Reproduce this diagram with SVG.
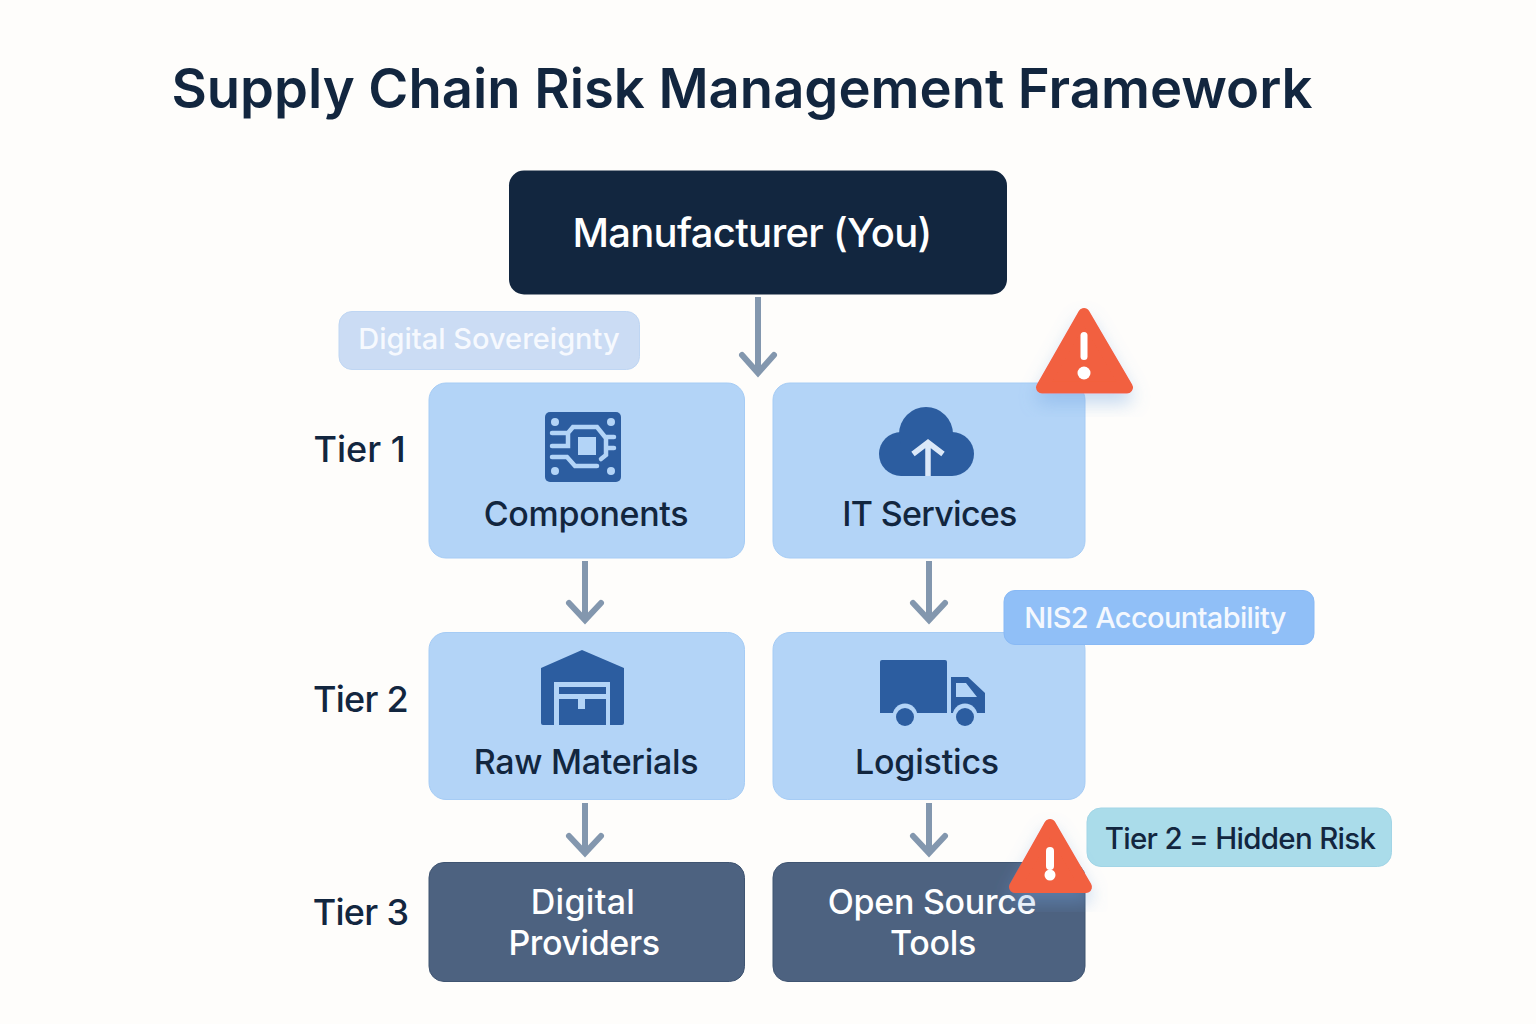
<svg xmlns="http://www.w3.org/2000/svg" width="1536" height="1024" viewBox="0 0 1536 1024">
<style>
text{font-family:Inter,"Noto Sans","Liberation Sans",sans-serif;text-anchor:middle}
.light{fill:#b3d4f7;stroke:#a6ccf5;stroke-width:1}
.dark{fill:#4d6280;stroke:#3f5471;stroke-width:1}
.lbl{font-size:34px;font-weight:500;fill:#12263f}
.wl{font-size:34px;font-weight:500;fill:#fff}
.tier{font-size:36px;font-weight:500;fill:#12263f;letter-spacing:-.7px}
.ic{fill:#2c5da0}
.icl{fill:none;stroke:#b3d4f7;stroke-width:4.500;stroke-linecap:round}
.conn path{fill:none;stroke:#8397ae;stroke-width:6}
.conn path.h{stroke-linecap:round}
.warn{fill:#f2603f;stroke:#f2603f;stroke-linejoin:round}
</style>
<defs>
<filter id="sh" x="-30%" y="-30%" width="160%" height="170%"><feDropShadow dx="0" dy="10" stdDeviation="9" flood-color="#6fa3e0" flood-opacity=".4"/></filter>
</defs>
<rect width="1536" height="1024" fill="#fefdfb"/>
<text id="title" x="742" y="108" font-size="54.400" font-weight="600" fill="#12263f">Supply Chain Risk Management Framework</text>

<g id="connectors" class="conn">
<path d="M758 297V372"/><path class="h" d="M742 355L758 373L774 355"/>
<path d="M585 561V618"/><path class="h" d="M569 603L585 620L601 603"/>
<path d="M929 561V618"/><path class="h" d="M913 603L929 620L945 603"/>
<path d="M585 803V851"/><path class="h" d="M569 836L585 853L601 836"/>
<path d="M929 803V851"/><path class="h" d="M913 836L929 853L945 836"/>
</g>

<g id="manufacturer"><rect x="509" y="170.500" width="498" height="124" rx="15" fill="#12263f"/><text x="752" y="247" font-size="40" font-weight="500" fill="#fff" letter-spacing="-.7">Manufacturer (You)</text></g>

<g id="digital-sovereignty"><rect x="339" y="311.500" width="300.500" height="58" rx="13" fill="#cbdcf4" stroke="#bfd6f3"/><text x="489" y="349" font-size="29" font-weight="500" fill="#f6f9fe">Digital Sovereignty</text></g>

<text id="tier1" class="tier" x="359.500" y="462" style="letter-spacing:0">Tier 1</text>
<text id="tier2" class="tier" x="360.500" y="712">Tier 2</text>
<text id="tier3" class="tier" x="360.500" y="925">Tier 3</text>

<g id="components">
<rect class="light" x="429" y="383" width="315.500" height="175" rx="17"/>
<rect class="ic" x="545" y="412" width="76" height="70" rx="5"/>
<g fill="#b3d4f7"><circle cx="555" cy="422" r="4"/><circle cx="611" cy="422" r="4"/><circle cx="555" cy="471" r="4"/><circle cx="611" cy="471" r="4"/><rect x="578" y="437" width="18" height="18"/></g>
<path class="icl" d="M552 433H568L573 427H597L605 437H614M552 446H568V433M606 437V455L601 459M607 448H614M552 457H567L575 466H597"/>
<text class="lbl" x="586" y="526" letter-spacing="-.3">Components</text>
</g>

<g id="it-services">
<rect class="light" x="773" y="383" width="312" height="175" rx="17"/>
<g class="ic"><circle cx="901" cy="454" r="22"/><circle cx="952" cy="454" r="22"/><circle cx="926" cy="434" r="27"/><rect x="901" y="440" width="51" height="36"/></g>
<path fill="none" stroke="#dbe8f8" stroke-width="5.500" d="M928 476V443M913 454L928 442.500L943 454"/>
<text class="lbl" x="929.500" y="526" letter-spacing="-.7">IT Services</text>
</g>

<g id="raw-materials">
<rect class="light" x="429" y="632.500" width="315.500" height="167" rx="17"/>
<path class="ic" d="M541 668L582 650L624 668V723Q624 725 622 725H610V682H554V725H543Q541 725 541 723Z"/>
<path class="ic" d="M559 687H606V694H559ZM559 699H578V709H585V699H606V725H559Z"/>
<text class="lbl" x="586" y="774" letter-spacing="-.3">Raw Materials</text>
</g>

<g id="logistics">
<rect class="light" x="773" y="632.500" width="312" height="167" rx="17"/>
<path class="ic" d="M880 662Q880 660 882 660H945Q947 660 947 662V713H880Z"/>
<path class="ic" fill-rule="evenodd" d="M951 677H968L985 693V713H951ZM956 683V697H977L966 683Z"/>
<g fill="#b3d4f7"><circle cx="905" cy="716" r="12.500"/><circle cx="965" cy="716" r="12.500"/></g>
<circle class="ic" cx="905" cy="717" r="9"/><circle class="ic" cx="965" cy="717" r="9"/>
<text class="lbl" x="927" y="774" letter-spacing="-.2">Logistics</text>
</g>

<g id="nis2"><rect x="1004" y="590.500" width="310" height="54" rx="11" fill="#90bff7" stroke="#88b9f5"/><text x="1155" y="628" font-size="29" font-weight="500" fill="#f4f8fe" letter-spacing="-.65">NIS2 Accountability</text></g>

<g id="digital-providers">
<rect class="dark" x="429" y="862.500" width="315.500" height="119" rx="15"/>
<text class="wl" x="583" y="914" letter-spacing=".3">Digital</text><text class="wl" x="584" y="955" letter-spacing="-.4">Providers</text>
</g>

<g id="open-source-tools">
<rect class="dark" x="773" y="862.500" width="312" height="119" rx="15"/>
<text class="wl" x="932" y="914" letter-spacing="-.3">Open Source</text><text class="wl" x="933" y="955" letter-spacing="-.3">Tools</text>
</g>

<g id="hidden-risk"><rect x="1087" y="808" width="304.500" height="58.500" rx="14" fill="#aadcea" stroke="#a2d5e6"/><text x="1240" y="849" font-size="29.500" font-weight="500" fill="#12263f" letter-spacing="-.7">Tier 2 = Hidden Risk</text></g>

<g id="warning-1">
<path class="warn" filter="url(#sh)" stroke-width="12" d="M1084 314L1127 387.500H1042Z"/>
<rect x="1080.500" y="332" width="7" height="28" rx="3.500" fill="#fff"/><circle cx="1084" cy="373" r="6.500" fill="#fff"/>
</g>
<g id="warning-2">
<path class="warn" filter="url(#sh)" stroke-width="12" d="M1050 825L1086 887H1015Z"/>
<rect x="1046" y="847" width="8" height="23" rx="4" fill="#fff"/><circle cx="1050" cy="875" r="5.500" fill="#fff"/>
</g>
</svg>
